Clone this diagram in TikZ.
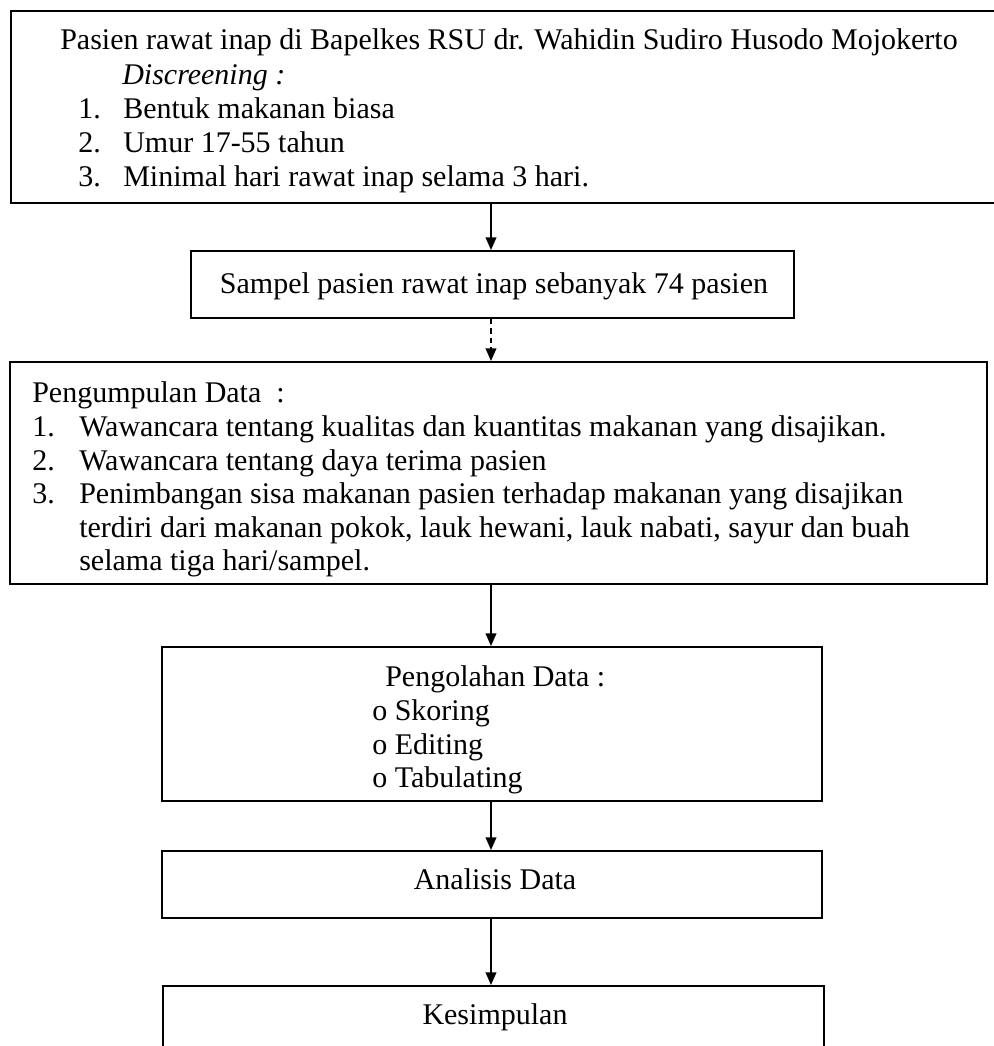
\documentclass[tikz,border=0pt]{standalone}
\usepackage{fontspec}
\setmainfont{Liberation Serif}
\usetikzlibrary{arrows.meta}
\newcommand\diafont{\fontsize{22.5}{25}\selectfont}
\begin{document}
\begin{tikzpicture}[x=0.75pt,y=-0.75pt,
  box/.style={draw,line width=1.5pt,rectangle,inner sep=0pt},
  tx/.style={anchor=base west,inner sep=0pt,font=\diafont},
  ctx/.style={anchor=base,inner sep=0pt,font=\diafont},
  arr/.style={-{Triangle[width=8pt,length=9.5pt]},line width=1.3pt},
  darr/.style={arr,dash pattern=on 4pt off 3pt}]
\path[use as bounding box,clip] (0,0) rectangle (994,1046);
\fill[white] (0,0) rectangle (994,1046);
\coordinate (ax) at (491,0);
% boxes
\node[box,minimum width=741.75pt,minimum height=144pt] (b1) at (505.5,107) {};
\node[box,minimum width=452.25pt,minimum height=50.25pt] (b2) at (492.5,284.5) {};
\node[box,minimum width=732.75pt,minimum height=166.5pt] (b3) at (498.5,473) {};
\node[box,minimum width=495pt,minimum height=115.5pt] (b4) at (492,724) {};
\node[box,minimum width=495pt,minimum height=50.25pt] (b5) at (492,884.5) {};
\node[box,minimum width=495.75pt,minimum height=60pt] (b6) at (493.5,1026) {};
% box 1 text
\node[tx] (t1a) at (60,49) {Pasien rawat inap di Bapelkes RSU dr. Wahidin Sudiro Husodo Mojokerto};
\node[tx] (t1b) at (122,84) {\itshape Discreening :};
\node[tx] (n1c) at (78,118) {1.};
\node[tx] (t1c) at (123,118) {Bentuk makanan biasa};
\node[tx] (n1d) at (78,152) {2.};
\node[tx] (t1d) at (123,152) {Umur 17-55 tahun};
\node[tx] (n1e) at (78,186) {3.};
\node[tx] (t1e) at (123,186) {Minimal hari rawat inap selama 3 hari.};
% box 2 text
\node[ctx] (t2) at (494,293) {Sampel pasien rawat inap sebanyak 74 pasien};
% box 3 text
\node[tx] (t3a) at (32,402) {Pengumpulan Data~~:};
\node[tx] (n3b) at (32,436) {1.};
\node[tx] (t3b) at (79,436) {Wawancara tentang kualitas dan kuantitas makanan yang disajikan.};
\node[tx] (n3c) at (32,470) {2.};
\node[tx] (t3c) at (79,470) {Wawancara tentang daya terima pasien};
\node[tx] (n3d) at (32,503) {3.};
\node[tx] (t3d) at (79,503) {Penimbangan sisa makanan pasien terhadap makanan yang disajikan};
\node[tx] (t3e) at (79,537) {terdiri dari makanan pokok, lauk hewani, lauk nabati, sayur dan buah};
\node[tx] (t3f) at (79,570) {selama tiga hari/sampel.};
% box 4 text
\node[tx] (t4a) at (385,686) {Pengolahan Data :};
\node[tx] (t4b) at (372,720) {o Skoring};
\node[tx] (t4c) at (372,754) {o Editing};
\node[tx] (t4d) at (372,787) {o Tabulating};
% box 5, 6 text
\node[ctx] (t5) at (495,889) {Analisis Data};
\node[ctx] (t6) at (495,1024) {Kesimpulan};
% connectors
\draw[arr] (b1.south -| ax) -- (b2.north -| ax);
\draw[darr] (b2.south -| ax) -- (b3.north -| ax);
\draw[arr] (b3.south -| ax) -- (b4.north -| ax);
\draw[arr] (b4.south -| ax) -- (b5.north -| ax);
\draw[arr] (b5.south -| ax) -- (b6.north -| ax);
\end{tikzpicture}
\end{document}
